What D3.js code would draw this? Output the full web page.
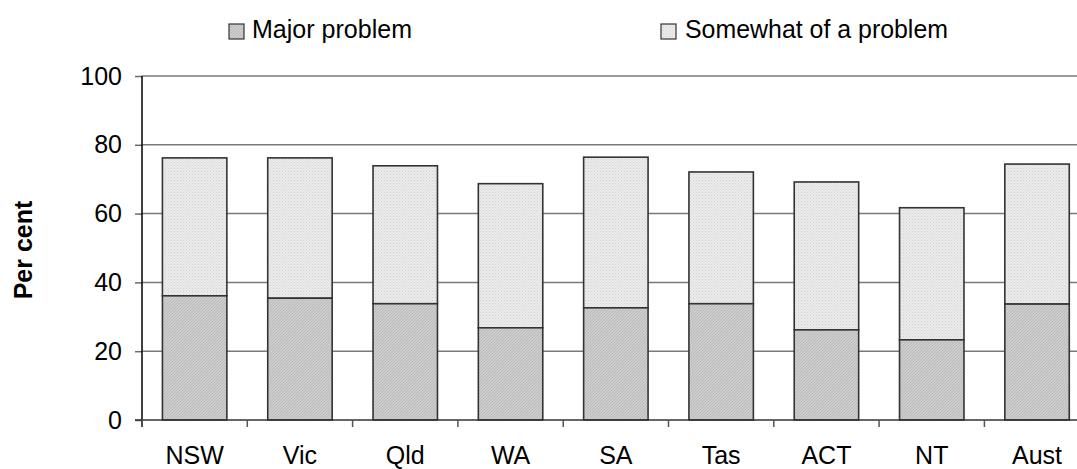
<!DOCTYPE html>
<html>
<head>
<meta charset="utf-8">
<script src="https://cdn.jsdelivr.net/npm/d3@7"></script>
<style>
  html, body { margin: 0; padding: 0; background: #fff; }
  svg { display: block; font-family: "Liberation Sans", Arial, sans-serif; }
</style>
</head>
<body>
<svg id="chart" width="1077" height="469"></svg>
<script>
const categories = ["NSW", "Vic", "Qld", "WA", "SA", "Tas", "ACT", "NT", "Aust"];
const majorProblem = [36.1, 35.4, 33.8, 26.8, 32.6, 33.8, 26.2, 23.3, 33.7];
const somewhatProblem = [40.1, 40.8, 40.1, 41.9, 43.8, 38.3, 43.0, 38.4, 40.7];
const yTicks = [0, 20, 40, 60, 80, 100];
const seriesNames = ["Major problem", "Somewhat of a problem"];

(function () {
const svg = d3.select("#chart");
const defs = svg.append("defs");
const FS = 25;

// Pattern: major problem (fine diagonal hatch, mid gray)
const pMajor = defs.append("pattern").attr("id", "pMajor")
  .attr("patternUnits", "userSpaceOnUse").attr("width", 3).attr("height", 3);
pMajor.append("rect").attr("width", 3).attr("height", 3).attr("fill", "#cdcdcd");
pMajor.append("path").attr("d", "M0,3 L3,0 M-1,1 L1,-1 M2,4 L4,2")
  .attr("stroke", "#b4b4b4").attr("stroke-width", 0.8);

// Pattern: somewhat of a problem (light dotted)
const pSome = defs.append("pattern").attr("id", "pSome")
  .attr("patternUnits", "userSpaceOnUse").attr("width", 3).attr("height", 3);
pSome.append("rect").attr("width", 3).attr("height", 3).attr("fill", "#ebebeb");
pSome.append("rect").attr("x", 0).attr("y", 0).attr("width", 1).attr("height", 1).attr("fill", "#d2d2d2");
pSome.append("rect").attr("x", 1.5).attr("y", 1.5).attr("width", 1).attr("height", 1).attr("fill", "#dadada");

const mLeft = 142, mTop = 76, mBottom = 420;
const x = d3.scaleBand().domain(categories)
  .range([mLeft, mLeft + 9 * 105.3])
  .paddingInner(0.388).paddingOuter(0.194);
const y = d3.scaleLinear().domain([0, 100]).range([mBottom, mTop]);

// gridlines
svg.append("g").selectAll("line").data(yTicks.filter(d => d > 0)).join("line")
  .attr("x1", mLeft).attr("x2", 1077)
  .attr("y1", d => y(d)).attr("y2", d => y(d))
  .attr("stroke", "#7a7a7a").attr("stroke-width", 1.5);

// y axis
const yAxis = svg.append("g").attr("transform", `translate(${mLeft},0)`)
  .call(d3.axisLeft(y).tickValues(yTicks).tickSize(7).tickPadding(13));
yAxis.select(".domain").remove();
yAxis.selectAll(".tick line").attr("stroke", "#6a6a6a").attr("stroke-width", 1.5);
yAxis.selectAll(".tick text").attr("font-size", FS).attr("fill", "#000")
  .attr("font-family", "Liberation Sans, Arial, sans-serif");
svg.append("line").attr("x1", mLeft).attr("x2", mLeft).attr("y1", mTop).attr("y2", mBottom + 7)
  .attr("stroke", "#000").attr("stroke-width", 1.5);

// bars
const stacked = categories.map((c, i) => ({ c, m: majorProblem[i], s: somewhatProblem[i] }));
const bars = svg.append("g");
bars.selectAll("rect.some").data(stacked).join("rect").attr("class", "some")
  .attr("x", d => x(d.c)).attr("width", x.bandwidth())
  .attr("y", d => y(d.m + d.s)).attr("height", d => y(d.m) - y(d.m + d.s))
  .attr("fill", "url(#pSome)").attr("stroke", "#333").attr("stroke-width", 1.6);
bars.selectAll("rect.major").data(stacked).join("rect").attr("class", "major")
  .attr("x", d => x(d.c)).attr("width", x.bandwidth())
  .attr("y", d => y(d.m)).attr("height", d => y(0) - y(d.m))
  .attr("fill", "url(#pMajor)").attr("stroke", "#333").attr("stroke-width", 1.6);

// x axis line and ticks
svg.append("line").attr("x1", mLeft - 7).attr("x2", 1077).attr("y1", mBottom).attr("y2", mBottom)
  .attr("stroke", "#333").attr("stroke-width", 1.5);
const boundaries = categories.map(c => x(c) + x.bandwidth() / 2 - x.step() / 2);
svg.append("g").selectAll("line").data(boundaries).join("line")
  .attr("x1", d => d).attr("x2", d => d).attr("y1", mBottom).attr("y2", mBottom + 7)
  .attr("stroke", "#555").attr("stroke-width", 1.5);
svg.append("g").selectAll("text").data(categories).join("text")
  .attr("x", d => x(d) + x.bandwidth() / 2).attr("y", 464)
  .attr("text-anchor", "middle").attr("font-size", FS).attr("fill", "#000")
  .text(d => d);

// y label
svg.append("text").attr("transform", "translate(32,250) rotate(-90)")
  .attr("text-anchor", "middle").attr("font-size", FS).attr("font-weight", "bold")
  .text("Per cent");

// legend
const legendItems = [
  { name: seriesNames[0], fill: "url(#pMajor)", bx: 229, tx: 252 },
  { name: seriesNames[1], fill: "url(#pSome)", bx: 661, tx: 685 }
];
const lg = svg.append("g");
lg.selectAll("rect").data(legendItems).join("rect")
  .attr("x", d => d.bx).attr("y", 24).attr("width", 15).attr("height", 15)
  .attr("fill", d => d.fill).attr("stroke", "#333").attr("stroke-width", 1.2);
lg.selectAll("text").data(legendItems).join("text")
  .attr("x", d => d.tx).attr("y", 38).attr("font-size", FS)
  .attr("textLength", (d, i) => i === 0 ? 160 : 263).attr("lengthAdjust", "spacingAndGlyphs")
  .text(d => d.name);
})();
</script>
</body>
</html>
